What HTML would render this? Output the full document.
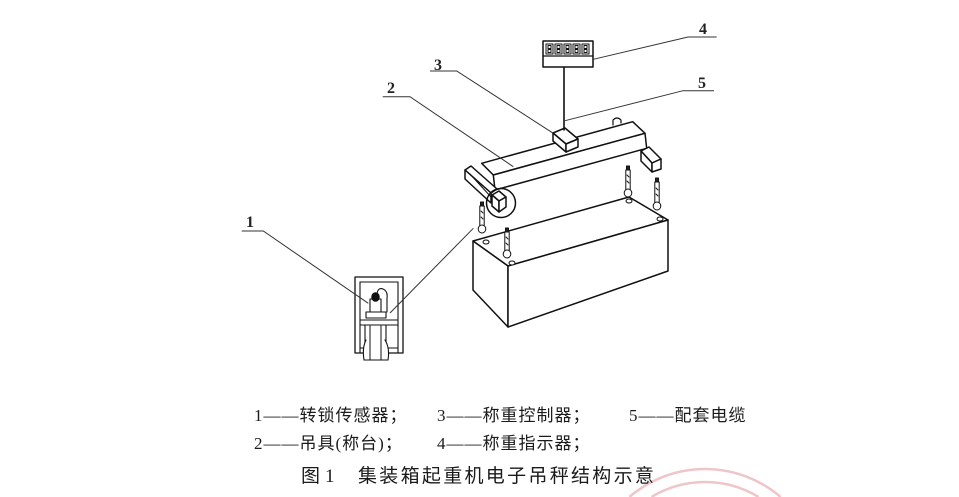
<!DOCTYPE html>
<html>
<head>
<meta charset="utf-8">
<style>
html,body{margin:0;padding:0;background:#fff;width:959px;height:497px;overflow:hidden;}
body{position:relative;}
svg{position:absolute;left:0;top:0;display:block;}
.cap{font-family:"Liberation Serif","Noto Sans CJK SC",serif;font-size:17px;fill:#1a1a1a;letter-spacing:1px;}
.tit{font-family:"Liberation Serif","Noto Sans CJK SC",serif;font-size:19px;fill:#1a1a1a;}
.lab{font-family:"Liberation Serif",serif;font-size:16px;font-weight:bold;fill:#222;}
</style>
</head>
<body>
<svg width="959" height="497" viewBox="0 0 959 497" xmlns="http://www.w3.org/2000/svg">
  <!-- watermark arcs -->
  <g fill="none" stroke="#eec6ca" stroke-width="2.5">
    <path d="M629.4,497 A116,116 0 0 1 780.6,497"/>
    <path d="M651.5,497 A103,103 0 0 1 758.5,497"/>
  </g>

  <g stroke="#111" stroke-width="1.5" stroke-linejoin="round" stroke-linecap="round" fill="#fff">
    <!-- container box -->
    <polygon points="473,241 629,197 668,220 508,266"/>
    <polygon points="473,241 508,266 508,327 473,290"/>
    <polygon points="508,266 668,220 668,271 508,327"/>
    <!-- holes -->
    <ellipse cx="486" cy="242" rx="3" ry="2" stroke-width="1"/>
    <ellipse cx="512" cy="263" rx="3" ry="2" stroke-width="1"/>
    <ellipse cx="629" cy="201" rx="3" ry="2" stroke-width="1"/>
    <ellipse cx="660" cy="219" rx="3" ry="2" stroke-width="1"/>

    <!-- pins -->
    <g stroke-width="1">
      <rect x="480.5" y="202" width="3" height="4" fill="#222"/>
      <rect x="479.8" y="206" width="4.4" height="20"/>
      <line x1="481" y1="211" x2="483" y2="213"/><line x1="481" y1="217" x2="483" y2="219"/>
      <ellipse cx="482" cy="229" rx="3.8" ry="4"/>
      <rect x="505.5" y="228" width="3" height="4" fill="#222"/>
      <rect x="504.8" y="232" width="4.4" height="19"/>
      <line x1="506" y1="237" x2="508" y2="239"/><line x1="506" y1="243" x2="508" y2="245"/>
      <ellipse cx="507" cy="254" rx="3.8" ry="4"/>
      <rect x="626.5" y="166" width="3" height="4" fill="#222"/>
      <rect x="625.8" y="170" width="4.4" height="20"/>
      <line x1="627" y1="175" x2="629" y2="177"/><line x1="627" y1="181" x2="629" y2="183"/>
      <ellipse cx="628" cy="193" rx="3.8" ry="4"/>
      <rect x="655.5" y="178" width="3" height="4" fill="#222"/>
      <rect x="654.8" y="182" width="4.4" height="21"/>
      <line x1="656" y1="188" x2="658" y2="190"/><line x1="656" y1="194" x2="658" y2="196"/>
      <ellipse cx="657" cy="206" rx="3.8" ry="4"/>
    </g>

    <!-- beam -->
    <polygon points="481.7,163.3 632.7,121.7 645,133.3 493.3,175"/>
    <polygon points="493.3,175 645,133.3 646.7,148.3 495,190"/>
    <path d="M613,125 L613,120 Q617,116 621,120 L621,123" stroke-width="1.2"/>

    <!-- right bracket -->
    <polygon points="641,151 649,147 661,159 652,163"/>
    <polygon points="641,151 652,163 652,172 641,161"/>
    <polygon points="652,163 661,159 661,169 652,172"/>

    <!-- left bracket -->
    <polygon points="465,170 471,166 497,189 491,193"/>
    <polygon points="465,170 491,193 491,203 465,179"/>
    <line x1="470" y1="174" x2="491" y2="197" stroke-width="1"/>
    <polygon points="492,195 499,191 506,197 499,201"/>
    <polygon points="492,195 499,201 499,212 492,206"/>
    <polygon points="499,201 506,197 506,207 499,212"/>
    <circle cx="501" cy="203" r="14.5" fill="none"/>

    <!-- controller box -->
    <polygon points="553,133 565,128 578,139 566,144"/>
    <polygon points="553,133 566,144 566,152 553,141"/>
    <polygon points="566,144 578,139 578,147 566,152"/>

    <!-- cable -->
    <line x1="564" y1="67" x2="564" y2="130" stroke-width="1.6"/>

    <!-- display -->
    <rect x="543" y="41" width="50" height="26"/>
    <line x1="543" y1="56" x2="593" y2="56" stroke-width="1.2"/>
    <g stroke-width="1" fill="#fff">
      <rect x="546" y="44" width="7" height="10"/>
      <rect x="555" y="44" width="7" height="10"/>
      <rect x="564" y="44" width="7" height="10"/>
      <rect x="573" y="44" width="7" height="10"/>
      <rect x="582" y="44" width="7" height="10"/>
      <rect x="548" y="45.5" width="3" height="3"/><rect x="548" y="49.5" width="3" height="3"/>
      <rect x="557" y="45.5" width="3" height="3"/><rect x="557" y="49.5" width="3" height="3"/>
      <rect x="566" y="45.5" width="3" height="3"/><rect x="566" y="49.5" width="3" height="3"/>
      <rect x="575" y="45.5" width="3" height="3"/><rect x="575" y="49.5" width="3" height="3"/>
      <rect x="584" y="45.5" width="3" height="3"/><rect x="584" y="49.5" width="3" height="3"/>
    </g>

    <!-- inset detail -->
    <rect x="355" y="277" width="48" height="76" stroke-width="1.3"/>
    <g fill="none" stroke-width="1.1">
      <polyline points="360,353 360,282 398,282 398,353"/>
      <line x1="360" y1="348" x2="398" y2="348"/>
      <line x1="360" y1="320" x2="398" y2="320"/>
      <line x1="360" y1="325" x2="398" y2="325"/>
    </g>
    <rect x="365" y="325" width="21" height="23" stroke-width="1.1"/>
    <path d="M366,340 Q362,348 364,360 L388,360 Q390,348 385,340" stroke-width="1.1"/>
    <line x1="370" y1="326" x2="370" y2="360" stroke-width="1"/>
    <line x1="381" y1="326" x2="381" y2="360" stroke-width="1"/>
    <path d="M377,294 Q378,287 383,289 Q388,291 387,298 L387,312" fill="none" stroke-width="1.1"/>
    <rect x="370" y="299" width="11" height="14" stroke-width="1.1"/>
    <rect x="366" y="312" width="20" height="6" stroke-width="1.1"/>
    <ellipse cx="375.5" cy="297" rx="3.5" ry="4" fill="#111"/>
  </g>

  <!-- leaders -->
  <g stroke="#333" stroke-width="1" fill="none">
    <polyline points="241.7,231 263.3,231 368.3,303.3"/>
    <line x1="390" y1="313" x2="473.3" y2="228.3"/>
    <polyline points="382.7,96.7 410,96.7 513.3,166.7"/>
    <polyline points="430,71 456.7,71 553.3,133.3"/>
    <polyline points="593.3,59.3 688,37 716.7,37"/>
    <polyline points="565,120.7 683,90.7 714,90.7"/>
  </g>
  <text class="lab" x="246" y="227">1</text>
  <text class="lab" x="387" y="93">2</text>
  <text class="lab" x="434" y="70">3</text>
  <text class="lab" x="699" y="34">4</text>
  <text class="lab" x="698" y="88">5</text>

  <!-- captions -->
  <text class="cap" x="254" y="421">1——转锁传感器；</text>
  <text class="cap" x="437" y="421">3——称重控制器；</text>
  <text class="cap" x="629" y="421">5——配套电缆</text>
  <text class="cap" x="254" y="449">2——吊具(称台)；</text>
  <text class="cap" x="437" y="449">4——称重指示器；</text>
  <text class="tit" x="301" y="482">图</text>
  <text class="tit" x="325" y="482">1</text>
  <text class="tit" x="358" y="482" style="letter-spacing:2.3px">集装箱起重机电子吊秤结构示意</text>
</svg>
</body>
</html>
